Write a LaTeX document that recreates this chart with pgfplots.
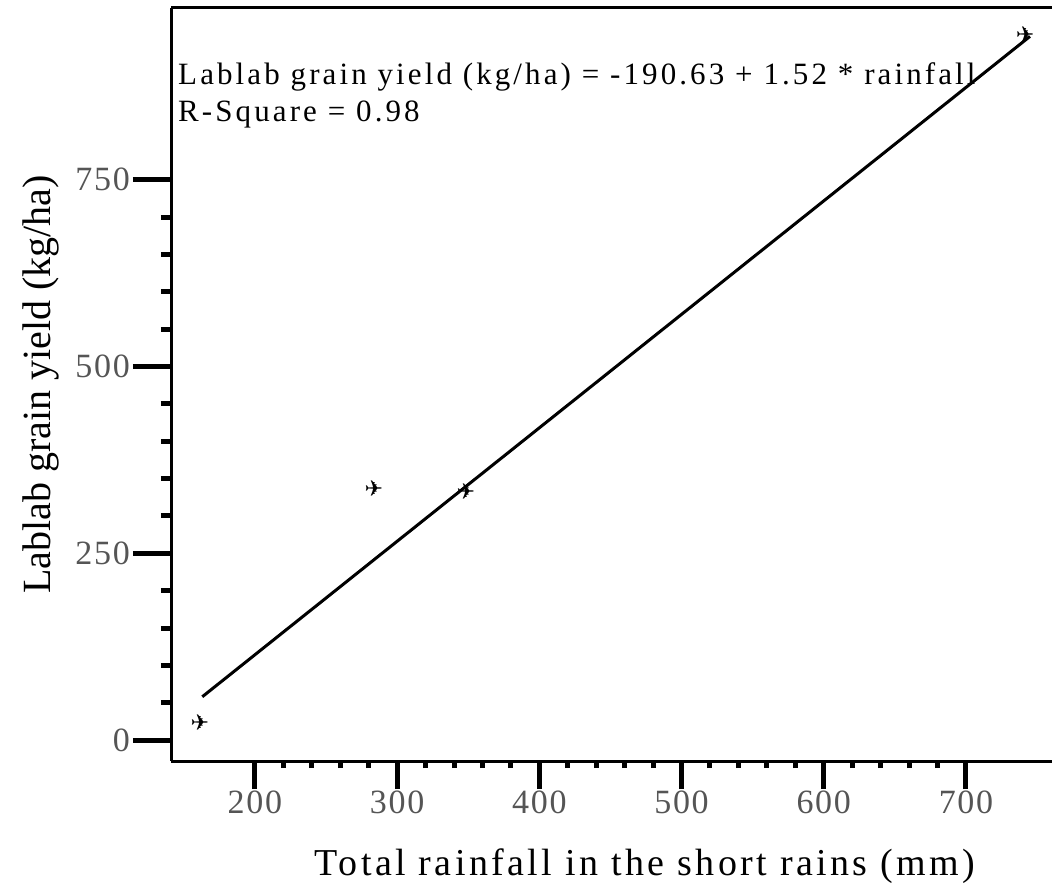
\documentclass[border=0pt]{standalone}
\usepackage{pgfplots}
\pgfplotsset{compat=1.18}
\usepackage{fontspec}
\setmainfont{Liberation Serif}
\newfontfamily\planefont{DejaVu Sans}
\newfontfamily\spacedA[LetterSpace=10]{Liberation Serif}
\newfontfamily\spacedB[LetterSpace=9]{Liberation Serif}
\newfontfamily\spacedT[LetterSpace=5]{Liberation Serif}
\definecolor{ticktxt}{RGB}{85,85,85}
\begin{document}
\begin{tikzpicture}[x=1pt,y=1pt]
\pgfplotsset{common/.style={
  scale only axis, width=881pt, height=753pt,
  at={(171pt,123pt)}, anchor=south west,
  xmin=141, xmax=760.5, ymin=-28, ymax=980,
  tick align=outside,
  tick style={line width=5pt, black},
  clip=false,
  /pgf/number format/assume math mode=true,
}}
% y ticks only
\begin{axis}[common,
  axis x line=none, axis y line*=left,
  y axis line style={draw=none},
  ytick={0,250,500,750}, minor y tick num=4,
  ytick pos=left,
  major tick length=38pt, minor tick length=10pt,
  yticklabel style={font=\spacedT\fontsize{34}{40}\selectfont, text=ticktxt, inner xsep=3pt},
  xtick=\empty,
]
\end{axis}
% main axis
\begin{axis}[common,
  axis x line*=box, axis y line*=left,
  axis line style={line width=3pt, black},
  xtick={200,300,400,500,600,700}, minor x tick num=4,
  xtick pos=left,
  ytick=\empty,
  major tick length=28pt, minor tick length=7pt,
  xticklabel style={font=\spacedT\fontsize{34}{40}\selectfont, text=ticktxt, inner ysep=2pt},
]
\addplot[black, line width=3pt] coordinates {(163,58) (745,942)};
\addplot[only marks, mark=text, text mark={\planefont\fontsize{22}{22}\selectfont ✈}] coordinates {
(161.3,22.8) (283.7,336) (348.4,332) (741.5,944)};
\node[anchor=base west, font=\spacedA\fontsize{31}{36}\selectfont, inner sep=0pt] at (axis description cs:0.008,0.898) {Lablab grain yield (kg/ha) = -190.63 + 1.52 * rainfall};
\node[anchor=base west, font=\spacedA\fontsize{31}{36}\selectfont, inner sep=0pt] at (axis description cs:0.008,0.849) {R-Square = 0.98};
\node[anchor=base, font=\spacedB\fontsize{38}{44}\selectfont, inner sep=0pt] at (axis description cs:0.538,-0.1514) {Total rainfall in the short rains (mm)};
\node[anchor=base, rotate=90, font=\fontsize{40}{46}\selectfont, inner sep=0pt] at (axis description cs:-0.1373,0.5) {Lablab grain yield (kg/ha)};
\end{axis}
\pgfresetboundingbox
\path[use as bounding box] (0,0) rectangle (1052,884);
\end{tikzpicture}
\end{document}
